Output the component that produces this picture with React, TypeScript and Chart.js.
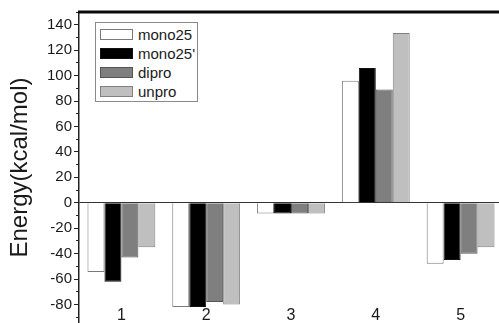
import React, { useEffect, useRef } from "react";
import { Chart, registerables } from "chart.js";

Chart.register(...registerables);

const categories = ["1", "2", "3", "4", "5"];
const seriesNames = ["mono25", "mono25'", "dipro", "unpro"];
const mono25 = [-54.5, -82, -8.5, 96, -48];
const mono25p = [-62, -82, -8.5, 106, -45];
const dipro = [-43, -78, -8.5, 89, -40];
const unpro = [-35, -80, -8.5, 133.5, -35];
const fillColors = ["#ffffff", "#000000", "#7f7f7f", "#bfbfbf"];
const edgeColors = ["#7a7a7a", "#111111", "#555555", "#808080"];
const yMin = -94.5;
const yMax = 150;

const FONT = "'Liberation Sans', Arial, sans-serif";

const topFrame = {
  id: "topFrame",
  afterDraw(chart: any) {
    const ctx = chart.ctx;
    const area = chart.chartArea;
    ctx.save();
    ctx.globalAlpha = 1;
    ctx.fillStyle = "rgb(10,10,10)";
    ctx.fillRect(area.left - 1, area.top - 1.5, area.right - area.left + 1, 3);
    ctx.restore();
  },
};

export default function App() {
  const ref = useRef<HTMLCanvasElement | null>(null);

  useEffect(() => {
    if (!ref.current) return;
    const values = [mono25, mono25p, dipro, unpro];
    const noPad = (s: any) => {
      s.paddingTop = 0;
      s.paddingBottom = 0;
    };
    const chart = new Chart(ref.current, {
      type: "bar",
      data: {
        labels: categories,
        datasets: values.map((v, i) => ({
          label: seriesNames[i],
          data: v,
          backgroundColor: fillColors[i],
          borderColor: edgeColors[i],
          borderWidth: 1,
          barPercentage: 1,
          categoryPercentage: 0.8,
        })),
      },
      plugins: [topFrame],
      options: {
        animation: false,
        responsive: false,
        maintainAspectRatio: false,
        layout: { padding: { top: 12, left: 0, right: 0, bottom: 0 } },
        plugins: { legend: { display: false }, tooltip: { enabled: false } },
        scales: {
          x: {
            type: "category",
            position: { y: -73.5 } as any,
            grid: { display: false },
            border: { display: false },
            ticks: {
              color: "#1a1a1a",
              font: { family: FONT, size: 16 },
              padding: 2,
            },
          },
          y: {
            type: "linear",
            position: "left",
            weight: 1,
            min: yMin,
            max: yMax,
            afterFit: (s: any) => {
              s.width = 79;
              noPad(s);
            },
            ticks: {
              stepSize: 20,
              autoSkip: false,
              includeBounds: false,
              color: "#1a1a1a",
              padding: 2,
              font: { family: FONT, size: 15 },
              callback: (v: any) => (Math.abs(v % 20) < 1e-6 ? String(v) : ""),
            },
            grid: {
              drawOnChartArea: true,
              tickLength: 5,
              lineWidth: 1,
              color: (c: any) => (c.tick && c.tick.value === 0 ? "#333" : "rgba(0,0,0,0)"),
              tickColor: (c: any) =>
                c.tick && Math.abs(c.tick.value % 20) < 1e-6 ? "#222" : "rgba(0,0,0,0)",
            },
            border: { display: true, color: "#222", width: 1.5 },
            title: {
              display: true,
              text: "Energy(kcal/mol)",
              color: "#1a1a1a",
              font: { family: FONT, size: 24 },
              padding: { top: 6, bottom: 0 },
            },
          },
          y2: {
            type: "linear",
            position: "left",
            weight: 0,
            min: yMin,
            max: yMax,
            afterFit: (s: any) => {
              s.width = 0;
              noPad(s);
            },
            ticks: { display: false, stepSize: 10, includeBounds: false },
            grid: {
              drawOnChartArea: false,
              tickLength: 3,
              tickColor: "#222",
            },
            border: { display: false },
          },
        },
      },
    });
    return () => chart.destroy();
  }, []);

  return (
    <div style={{ position: "fixed", left: 0, top: 0, width: 503, height: 323, background: "#fff" }}>
      <canvas ref={ref} width={503} height={323} style={{ width: 503, height: 323, display: "block" }} />
      <div
        style={{
          position: "absolute",
          left: 95,
          top: 22,
          width: 103,
          height: 80,
          border: "1px solid #8a8a8a",
          background: "#fff",
          boxSizing: "border-box",
          fontFamily: FONT,
          fontSize: 15,
          color: "#1a1a1a",
        }}
      >
        {seriesNames.map((n, i) => (
          <div
            key={n}
            style={{ position: "absolute", left: 4, top: 5 + i * 19, height: 13, display: "flex", alignItems: "center" }}
          >
            <div
              style={{
                width: 33,
                height: 11,
                background: fillColors[i],
                border: `1px solid ${edgeColors[i]}`,
                boxSizing: "border-box",
              }}
            />
            <span style={{ marginLeft: 5, lineHeight: "13px", whiteSpace: "nowrap" }}>{n}</span>
          </div>
        ))}
      </div>
    </div>
  );
}
